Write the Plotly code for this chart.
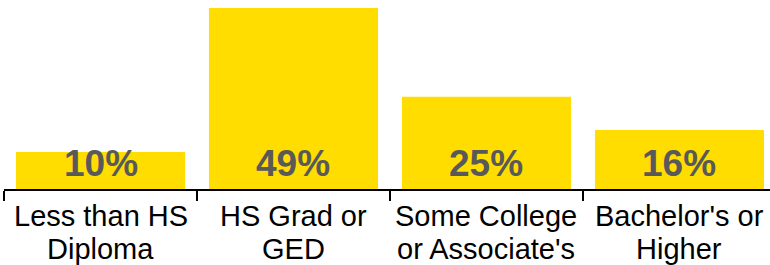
import plotly.graph_objects as go

categories = ["Less than HS<br>Diploma", "HS Grad or<br>GED", "Some College<br>or Associate's", "Bachelor's or<br>Higher"]
values = [10, 49, 25, 16]
labels = ["10%", "49%", "25%", "16%"]

FONT = "Liberation Sans, Arial, sans-serif"

fig = go.Figure()
fig.add_trace(go.Bar(
    x=categories, y=values,
    marker=dict(color="#FFDD00", line=dict(width=0)),
    hoverinfo="skip",
))

for c, lab in zip(categories, labels):
    fig.add_annotation(
        x=c, y=0, xref="x", yref="y", text=f"<b>{lab}</b>",
        showarrow=False, yanchor="bottom", yshift=3,
        font=dict(family=FONT, size=37, color="#595959"),
    )

# category labels: two lines each, set with tighter line spacing than the default
for c in categories:
    for i, line in enumerate(c.split("<br>")):
        fig.add_annotation(
            x=c, y=0, xref="x", yref="y", text=line,
            showarrow=False, yanchor="top", yshift=-9 - 33 * i,
            font=dict(family=FONT, size=29, color="black"),
        )

fig.update_layout(
    width=770, height=265,
    margin=dict(l=4, r=0, t=0, b=76, autoexpand=False),
    paper_bgcolor="white", plot_bgcolor="white",
    bargap=0.124,
    showlegend=False,
    font=dict(family=FONT),
)
fig.update_xaxes(
    type="category",
    range=[-0.5, 3.469],
    automargin=False,
    showline=True, linecolor="black", linewidth=2,
    ticks="outside", tickson="boundaries", ticklen=10, tickwidth=2, tickcolor="black",
    showticklabels=False,
    showgrid=False, zeroline=False,
)
fig.update_yaxes(
    range=[0, 51.2], visible=False, showgrid=False, zeroline=False, automargin=False,
)

fig.write_html(
    "out.html",
    config={"displayModeBar": False},
    post_script="document.body.style.margin='0';document.body.style.overflow='hidden';",
)
